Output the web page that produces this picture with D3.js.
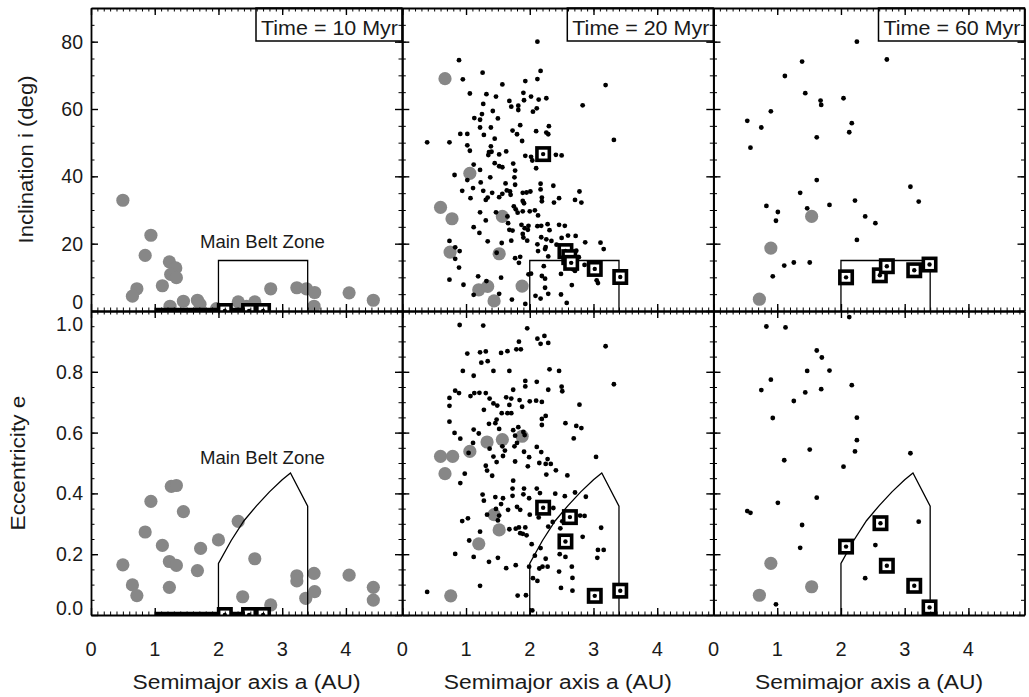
<!DOCTYPE html>
<html>
<head>
<meta charset="utf-8">
<script src="https://d3js.org/d3.v7.min.js"></script>
<style>
  body { margin: 0; background: #fff; }
  text { font-family: "Liberation Sans", Arial, Helvetica, sans-serif; fill: #1a1a1a; }
</style>
</head>
<body>
<svg id="chart" width="1029" height="697"></svg>
<script>

// ---- data ----
const timeLabels = ["Time = 10 Myr", "Time = 20 Myr", "Time = 60 Myr"];
const xTicks = [0, 1, 2, 3, 4];
const incTicks = [0, 20, 40, 60, 80];
const eccTicks = [0.0, 0.2, 0.4, 0.6, 0.8, 1.0];

// main belt zone outline (a, i) and (a, e)
const beltInc = [[2.0, 0], [2.0, 15], [3.4, 15], [3.4, 0]];
const beltEcc = [[2.0, 0], [2.0, 0.17], [2.2, 0.245], [2.4, 0.31], [2.6, 0.36], [2.8, 0.405],
    [3.0, 0.445], [3.13, 0.467], [3.4, 0.358], [3.4, 0]];

// thick bar along the bottom of the 10 Myr panels (a from, a to)
const baseBar = [1.0, 2.8];

// 10 Myr
const grey10Inc = [[0.50, 32.9], [0.94, 22.5], [0.85, 16.5], [1.23, 14.6], [1.33, 12.8], [1.25, 10.9],
    [1.34, 9.9], [0.72, 6.6], [0.65, 4.4], [1.12, 7.5], [1.24, 1.4], [1.45, 2.9], [1.67, 3.2], [1.71, 2.0],
    [1.97, 0.7], [2.31, 2.7], [2.57, 2.7], [2.44, 1.4], [2.82, 6.6], [3.23, 6.9], [3.38, 6.6], [3.51, 5.5],
    [3.50, 1.4], [4.05, 5.4], [4.43, 3.2]];
const grey10Ecc = [[0.50, 0.165], [0.65, 0.099], [0.72, 0.064], [0.85, 0.273], [0.94, 0.374], [1.12, 0.229],
    [1.23, 0.091], [1.23, 0.176], [1.34, 0.163], [1.26, 0.423], [1.34, 0.426], [1.45, 0.340], [1.67, 0.146],
    [1.72, 0.219], [2.00, 0.247], [2.31, 0.308], [2.38, 0.060], [2.57, 0.185], [2.82, 0.033], [3.23, 0.129],
    [3.23, 0.112], [3.37, 0.055], [3.50, 0.137], [3.51, 0.077], [4.05, 0.131], [4.43, 0.091], [4.43, 0.049]];
const dots10Inc = [];
const dots10Ecc = [];
const sq10Inc = [[2.10, 0], [2.48, 0], [2.70, 0]];
const sq10Ecc = [[2.10, 0], [2.48, 0], [2.70, 0]];

// 20 Myr
const grey20Inc = [[0.67, 69.0], [1.06, 40.9], [0.60, 30.8], [0.78, 27.4], [1.57, 28.1], [0.75, 17.5],
    [1.52, 17.0], [1.20, 6.3], [1.34, 7.3], [1.44, 3.0], [1.88, 7.4]];
const grey20Ecc = [[0.60, 0.522], [0.79, 0.522], [0.67, 0.465], [1.06, 0.538], [1.33, 0.569], [1.57, 0.577],
    [1.88, 0.588], [1.44, 0.330], [1.52, 0.280], [1.20, 0.234], [0.76, 0.063]];
const dots20Inc = [[2.12, 80.0], [0.89, 74.5], [0.95, 68.8], [1.26, 70.8], [2.17, 71.3], [2.12, 68.9], [1.93, 68.3],
    [1.57, 67.3], [3.19, 67.1], [1.06, 64.6], [1.32, 64.4], [1.47, 63.7], [1.90, 64.8], [2.02, 63.7], [1.91, 62.6],
    [2.14, 62.8], [2.26, 63.2], [1.27, 61.5], [1.68, 62.4], [1.71, 60.7], [1.82, 61.0], [1.82, 59.7], [2.11, 60.2],
    [2.05, 59.2], [2.83, 61.1], [1.42, 59.4], [1.25, 58.5], [1.13, 57.3], [1.22, 56.8], [1.50, 57.2], [1.22, 54.5],
    [1.39, 54.5], [1.85, 55.2], [1.73, 53.6], [1.80, 52.5], [2.10, 53.4], [2.30, 54.9], [2.26, 53.0], [2.29, 52.5],
    [0.91, 52.6], [1.02, 52.6], [1.28, 52.3], [0.39, 50.1], [0.74, 50.1], [3.32, 50.8], [1.45, 51.2], [1.88, 50.5],
    [1.02, 49.2], [1.39, 48.9], [1.06, 47.6], [1.36, 47.2], [1.40, 47.3], [1.52, 46.5], [1.63, 47.4], [1.35, 46.3],
    [1.93, 46.1], [2.02, 45.8], [2.41, 46.4], [2.50, 46.2], [2.04, 44.7], [1.45, 43.9], [1.52, 43.0], [1.57, 42.7],
    [1.74, 43.8], [1.77, 41.7], [1.12, 43.5], [2.10, 42.4], [0.82, 40.4], [1.02, 38.9], [1.22, 41.9], [1.38, 39.7],
    [1.76, 39.7], [1.23, 38.2], [1.62, 37.9], [1.77, 37.5], [2.17, 37.8], [2.37, 37.2], [0.94, 35.7], [1.11, 36.5],
    [1.27, 35.7], [1.41, 35.1], [1.57, 34.8], [1.64, 35.8], [1.69, 35.5], [1.89, 35.1], [1.95, 35.2], [2.01, 35.5],
    [2.17, 36.1], [1.07, 33.5], [1.31, 33.0], [1.34, 33.7], [1.52, 33.8], [1.70, 34.5], [1.89, 32.7], [1.91, 32.0],
    [2.19, 33.7], [2.19, 32.6], [2.38, 32.2], [2.46, 33.5], [2.71, 33.0], [2.78, 35.5], [2.81, 32.2], [1.22, 29.3],
    [1.31, 26.9], [1.47, 29.3], [1.75, 31.1], [1.78, 30.2], [1.81, 29.2], [1.89, 29.6], [2.00, 29.6], [2.08, 29.9],
    [2.13, 28.4], [1.12, 24.9], [1.21, 23.2], [1.34, 20.7], [1.65, 28.1], [1.66, 26.1], [1.68, 24.1], [1.73, 23.9],
    [1.87, 25.6], [1.92, 24.6], [1.97, 24.1], [1.98, 25.3], [1.89, 22.9], [1.90, 21.8], [1.96, 20.9], [2.12, 25.2],
    [2.18, 25.3], [2.28, 25.8], [2.31, 24.0], [2.46, 25.6], [2.55, 25.3], [1.56, 20.2], [1.71, 20.9], [2.18, 21.9],
    [2.26, 21.3], [2.34, 20.8], [2.42, 19.7], [2.50, 21.7], [2.60, 22.4], [2.72, 22.3], [2.87, 20.4], [3.11, 20.3],
    [3.16, 18.4], [2.12, 19.8], [2.25, 19.0], [2.24, 18.4], [2.13, 17.8], [2.29, 16.2], [2.61, 17.1], [2.73, 17.9],
    [2.77, 16.0], [0.74, 20.8], [0.83, 18.9], [0.90, 17.8], [0.83, 15.5], [0.89, 12.9], [0.74, 9.3], [0.96, 7.8],
    [1.19, 10.3], [1.32, 8.9], [1.12, 4.8], [1.55, 9.9], [1.52, 5.1], [1.48, 17.3], [1.77, 15.7], [1.85, 16.1],
    [1.83, 14.3], [1.98, 10.9], [2.02, 11.1], [2.22, 13.3], [2.19, 10.4], [2.24, 9.6], [2.24, 6.9], [2.09, 4.5],
    [2.17, 3.7], [2.29, 5.1], [2.49, 11.0], [2.66, 7.7], [2.49, 4.9], [2.58, 2.4], [2.71, 11.9], [2.86, 13.7],
    [3.05, 9.1], [3.07, 8.3], [1.72, 3.4], [1.93, 2.1], [2.68, 12.4]];
const dots20Ecc = [[0.90, 0.954], [1.27, 0.952], [1.96, 0.943], [1.83, 0.899], [2.12, 0.909], [2.23, 0.918],
    [2.17, 0.892], [2.29, 0.895], [3.19, 0.884], [1.02, 0.860], [1.22, 0.864], [1.31, 0.867], [1.55, 0.862],
    [1.65, 0.868], [1.79, 0.874], [1.86, 0.874], [1.24, 0.830], [1.34, 0.835], [0.95, 0.803], [1.12, 0.787],
    [1.43, 0.803], [1.68, 0.803], [2.31, 0.808], [2.46, 0.803], [1.93, 0.770], [1.93, 0.752], [2.11, 0.767],
    [3.32, 0.759], [2.50, 0.751], [2.51, 0.736], [2.29, 0.741], [1.74, 0.741], [0.83, 0.738], [0.89, 0.730],
    [0.74, 0.714], [0.74, 0.688], [1.07, 0.720], [1.13, 0.730], [1.21, 0.731], [1.31, 0.730], [1.37, 0.712],
    [1.43, 0.696], [1.49, 0.689], [1.63, 0.716], [1.71, 0.712], [1.68, 0.691], [1.84, 0.707], [1.88, 0.685],
    [2.00, 0.703], [2.10, 0.705], [2.19, 0.701], [2.78, 0.692], [1.28, 0.675], [1.56, 0.664], [1.65, 0.664],
    [1.71, 0.664], [2.19, 0.645], [2.25, 0.655], [2.19, 0.625], [0.74, 0.636], [1.48, 0.643], [1.46, 0.631],
    [1.36, 0.629], [2.56, 0.631], [2.73, 0.622], [2.81, 0.615], [0.82, 0.599], [0.91, 0.580], [1.12, 0.610],
    [1.20, 0.597], [1.52, 0.612], [1.74, 0.608], [1.82, 0.618], [1.77, 0.590], [1.90, 0.602], [1.92, 0.592],
    [2.69, 0.581], [1.11, 0.566], [1.04, 0.533], [1.37, 0.547], [1.57, 0.555], [1.61, 0.541], [1.76, 0.555],
    [1.80, 0.566], [1.91, 0.537], [1.99, 0.519], [2.11, 0.553], [2.18, 0.536], [2.28, 0.513], [2.15, 0.500],
    [2.25, 0.497], [2.33, 0.497], [2.26, 0.462], [2.41, 0.476], [2.59, 0.459], [3.04, 0.520], [1.43, 0.521],
    [1.58, 0.523], [1.48, 0.503], [1.77, 0.505], [1.97, 0.489], [1.31, 0.491], [1.33, 0.475], [1.41, 0.458],
    [0.98, 0.465], [0.91, 0.434], [1.74, 0.442], [1.73, 0.416], [1.26, 0.396], [1.28, 0.376], [1.46, 0.388],
    [1.58, 0.384], [1.55, 0.365], [1.73, 0.392], [1.90, 0.397], [1.91, 0.416], [1.99, 0.384], [2.11, 0.416],
    [2.16, 0.401], [2.40, 0.399], [2.55, 0.391], [2.71, 0.403], [2.88, 0.389], [1.47, 0.349], [1.66, 0.346],
    [1.80, 0.356], [1.85, 0.346], [2.00, 0.330], [2.14, 0.321], [2.37, 0.352], [1.52, 0.327], [1.50, 0.311],
    [1.33, 0.330], [0.94, 0.309], [1.03, 0.318], [1.68, 0.282], [1.78, 0.284], [1.83, 0.288], [1.85, 0.269],
    [1.89, 0.267], [1.93, 0.288], [1.95, 0.262], [2.03, 0.233], [2.29, 0.291], [2.36, 0.306], [2.48, 0.285],
    [2.51, 0.308], [2.79, 0.327], [2.86, 0.326], [3.12, 0.287], [2.83, 0.257], [1.22, 0.274], [1.05, 0.245],
    [0.83, 0.201], [1.12, 0.191], [1.36, 0.175], [1.50, 0.188], [1.63, 0.154], [1.78, 0.164], [2.08, 0.195],
    [2.17, 0.220], [2.47, 0.200], [2.56, 0.191], [2.25, 0.185], [2.28, 0.159], [2.20, 0.159], [2.15, 0.153],
    [1.99, 0.159], [2.05, 0.121], [2.12, 0.112], [2.46, 0.143], [2.66, 0.159], [2.67, 0.122], [2.67, 0.080],
    [2.49, 0.089], [3.07, 0.214], [3.16, 0.214], [3.06, 0.188], [1.22, 0.096], [0.39, 0.076], [1.81, 0.064],
    [1.94, 0.065], [2.04, 0.015]];
const sq20Inc = [[2.21, 46.6], [2.56, 17.8], [2.62, 16.0], [2.65, 14.3], [3.02, 12.5], [3.42, 10.1]];
const sq20Ecc = [[2.21, 0.353], [2.63, 0.322], [2.56, 0.242], [3.02, 0.063], [3.42, 0.080]];

// 60 Myr
const grey60Inc = [[1.54, 28.1], [0.90, 18.7], [0.72, 3.5]];
const grey60Ecc = [[0.90, 0.170], [1.54, 0.093], [0.72, 0.065]];
const dots60Inc = [[2.25, 80.0], [2.72, 74.7], [1.39, 74.1], [1.12, 69.8], [1.44, 64.7], [1.68, 62.5], [1.69, 61.2],
    [2.04, 63.2], [0.90, 59.3], [0.53, 56.5], [0.75, 54.5], [2.17, 55.8], [2.13, 53.1], [1.62, 51.6], [0.58, 48.5],
    [1.62, 38.9], [1.36, 35.1], [3.09, 36.9], [3.22, 32.5], [0.83, 31.2], [1.01, 29.4], [0.98, 26.8], [1.47, 30.5],
    [1.82, 31.5], [2.22, 32.8], [2.38, 28.1], [2.54, 26.1], [2.25, 21.1], [1.11, 13.5], [1.26, 14.4], [1.51, 14.4],
    [0.93, 10.3]];
const dots60Ecc = [[2.13, 0.980], [0.83, 0.949], [1.13, 0.946], [1.62, 0.870], [1.70, 0.847], [1.47, 0.803],
    [1.82, 0.804], [0.90, 0.774], [0.75, 0.740], [1.44, 0.732], [1.69, 0.743], [2.17, 0.756], [1.26, 0.704],
    [0.93, 0.648], [2.25, 0.649], [2.25, 0.575], [1.51, 0.544], [2.22, 0.538], [3.09, 0.532], [1.11, 0.509],
    [2.04, 0.488], [1.62, 0.386], [1.01, 0.369], [0.53, 0.342], [0.58, 0.336], [1.39, 0.296], [3.22, 0.307],
    [1.36, 0.221], [2.54, 0.230], [2.38, 0.121], [0.98, 0.035]];
const sq60Inc = [[2.08, 10.0], [2.61, 10.6], [2.72, 13.3], [3.15, 12.1], [3.39, 13.8]];
const sq60Ecc = [[2.08, 0.225], [2.62, 0.302], [2.72, 0.162], [3.15, 0.096], [3.39, 0.025]];

// ---- layout ----
const svg = d3.select("#chart");
const panelLeft = [91, 402.3, 713.5];
const panelWidth = 311;
const rowTop = 8, rowMid = 311, rowBottom = 615;

const snapshots = [
    { label: timeLabels[0], grey: [grey10Inc, grey10Ecc], dots: [dots10Inc, dots10Ecc], squares: [sq10Inc, sq10Ecc], bar: true },
    { label: timeLabels[1], grey: [grey20Inc, grey20Ecc], dots: [dots20Inc, dots20Ecc], squares: [sq20Inc, sq20Ecc], bar: false },
    { label: timeLabels[2], grey: [grey60Inc, grey60Ecc], dots: [dots60Inc, dots60Ecc], squares: [sq60Inc, sq60Ecc], bar: false }
];

const yInc = d3.scaleLinear().domain([0, 90]).range([rowMid, rowTop]);
const yEcc = d3.scaleLinear().domain([0, 1]).range([rowBottom, rowMid]);

//frame with inward ticks on all four sides
function drawFrame(g, x, y, yMajor, yMinor) {
    const xMinor = d3.range(0, 4.85, 0.1);
    const [y0, y1] = y.range();
    const [x0, x1] = x.range();

    const sides = [
        [d3.axisBottom(x), `translate(0,${y0})`, xTicks, xMinor],
        [d3.axisTop(x), `translate(0,${y1})`, xTicks, xMinor],
        [d3.axisLeft(y), `translate(${x0},0)`, yMajor, yMinor],
        [d3.axisRight(y), `translate(${x1},0)`, yMajor, yMinor]
    ];
    sides.forEach(([axis, tr, major, minor]) => {
        g.append("g").attr("transform", tr)
            .call(axis.tickValues(minor).tickSize(-3.5).tickSizeOuter(0).tickFormat(""))
            .call(a => a.select(".domain").remove())
            .call(a => a.selectAll("line").attr("stroke", "#000").attr("stroke-width", 1));
        g.append("g").attr("transform", tr)
            .call(axis.tickValues(major).tickSize(-7).tickSizeOuter(0).tickFormat(""))
            .call(a => a.select(".domain").attr("stroke", "#000").attr("stroke-width", 1.8))
            .call(a => a.selectAll("line").attr("stroke", "#000").attr("stroke-width", 1.4));
    });
}

function drawMarkers(g, x, y, snap, k, belt) {
    // grey circles (embryos)
    g.selectAll(".grey").data(snap.grey[k]).join("circle")
        .attr("class", "grey")
        .attr("cx", d => x(d[0])).attr("cy", d => y(d[1]))
        .attr("r", 6.6)
        .attr("fill", "#878787");

    // small black dots
    g.selectAll(".dot").data(snap.dots[k]).join("circle")
        .attr("class", "dot")
        .attr("cx", d => x(d[0])).attr("cy", d => y(d[1]))
        .attr("r", 2.4)
        .attr("fill", "#000");

    // main belt zone outline
    g.append("path")
        .attr("d", d3.line().x(d => x(d[0])).y(d => y(d[1]))(belt))
        .attr("fill", "none")
        .attr("stroke", "#000")
        .attr("stroke-width", 1.3);

    if (snap.bar) {
        g.append("line")
            .attr("x1", x(baseBar[0])).attr("x2", x(baseBar[1]))
            .attr("y1", y(0)).attr("y2", y(0))
            .attr("stroke", "#000")
            .attr("stroke-width", 6.5);
    }

    // squares with a dot in the middle
    const sq = g.selectAll(".sq").data(snap.squares[k]).join("g")
        .attr("class", "sq")
        .attr("transform", d => `translate(${x(d[0])},${y(d[1])})`);
    sq.append("rect")
        .attr("x", -6.2).attr("y", -6.2)
        .attr("width", 12.4).attr("height", 12.4)
        .attr("fill", "#fff")
        .attr("stroke", "#000")
        .attr("stroke-width", 3.6);
    sq.append("circle").attr("r", 2.2).attr("fill", "#000");
}

snapshots.forEach((snap, col) => {
    const x = d3.scaleLinear().domain([0, 4.88]).range([panelLeft[col], panelLeft[col] + panelWidth]);

    [[yInc, beltInc, d3.range(0, 90.1, 5), incTicks], [yEcc, beltEcc, d3.range(0, 1.001, 0.05), eccTicks]]
        .forEach(([y, belt, yMinor, yMajor], k) => {
            const id = `clip-${col}-${k}`;
            svg.append("clipPath").attr("id", id)
                .append("rect")
                .attr("x", x.range()[0]).attr("y", y.range()[1])
                .attr("width", panelWidth).attr("height", y.range()[0] - y.range()[1]);

            const plot = svg.append("g").attr("clip-path", `url(#${id})`);
            drawMarkers(plot, x, y, snap, k, belt);

            if (k === 0) {
                // time label box in the top right corner
                const bx = x.range()[1] - 146;
                svg.append("rect")
                    .attr("x", bx).attr("y", rowTop)
                    .attr("width", 146).attr("height", 33)
                    .attr("fill", "#fff")
                    .attr("stroke", "#000")
                    .attr("stroke-width", 1.5);
                svg.append("text")
                    .attr("x", bx + 5).attr("y", rowTop + 26.5)
                    .attr("font-size", 20)
                    .attr("textLength", 137).attr("lengthAdjust", "spacingAndGlyphs")
                    .text(snap.label);
            }

            drawFrame(svg.append("g"), x, y, yMajor, yMinor);
        });

    // x tick labels
    svg.append("g")
        .selectAll("text").data(xTicks).join("text")
        .attr("x", d => x(d)).attr("y", 656)
        .attr("text-anchor", "middle")
        .attr("font-size", 20)
        .text(d => d);

    // x title
    svg.append("text")
        .attr("x", x(0) + panelWidth / 2).attr("y", 689)
        .attr("text-anchor", "middle")
        .attr("font-size", 20)
        .attr("textLength", 228).attr("lengthAdjust", "spacingAndGlyphs")
        .text("Semimajor axis a (AU)");

    if (col === 0) {
        // Main Belt Zone labels
        svg.append("text")
            .attr("x", x(2.69)).attr("y", yInc(18.7))
            .attr("text-anchor", "middle")
            .attr("font-size", 17.5)
            .attr("textLength", 125).attr("lengthAdjust", "spacingAndGlyphs")
            .text("Main Belt Zone");
        svg.append("text")
            .attr("x", x(2.69)).attr("y", yEcc(0.497))
            .attr("text-anchor", "middle")
            .attr("font-size", 17.5)
            .attr("textLength", 125).attr("lengthAdjust", "spacingAndGlyphs")
            .text("Main Belt Zone");
    }
});

// y tick labels (first column only), end labels nudged inside like the original
svg.append("g")
    .selectAll("text").data(incTicks).join("text")
    .attr("x", 83)
    .attr("y", d => d === 0 ? yInc(d) - 2 : yInc(d) + 7)
    .attr("text-anchor", "end")
    .attr("font-size", 19.5)
    .text(d => d);

svg.append("g")
    .selectAll("text").data(eccTicks).join("text")
    .attr("x", 83)
    .attr("y", d => d === 1 ? yEcc(d) + 19.5 : (d === 0 ? yEcc(d) : yEcc(d) + 7))
    .attr("text-anchor", "end")
    .attr("font-size", 19.5)
    .text(d => d3.format(".1f")(d));

// y titles
svg.append("text")
    .attr("transform", "translate(33,159.5) rotate(-90)")
    .attr("text-anchor", "middle")
    .attr("font-size", 20)
    .attr("textLength", 168).attr("lengthAdjust", "spacingAndGlyphs")
    .text("Inclination i (deg)");

svg.append("text")
    .attr("transform", "translate(25,463) rotate(-90)")
    .attr("text-anchor", "middle")
    .attr("font-size", 20)
    .attr("textLength", 135).attr("lengthAdjust", "spacingAndGlyphs")
    .text("Eccentricity e");
</script>
</body>
</html>
